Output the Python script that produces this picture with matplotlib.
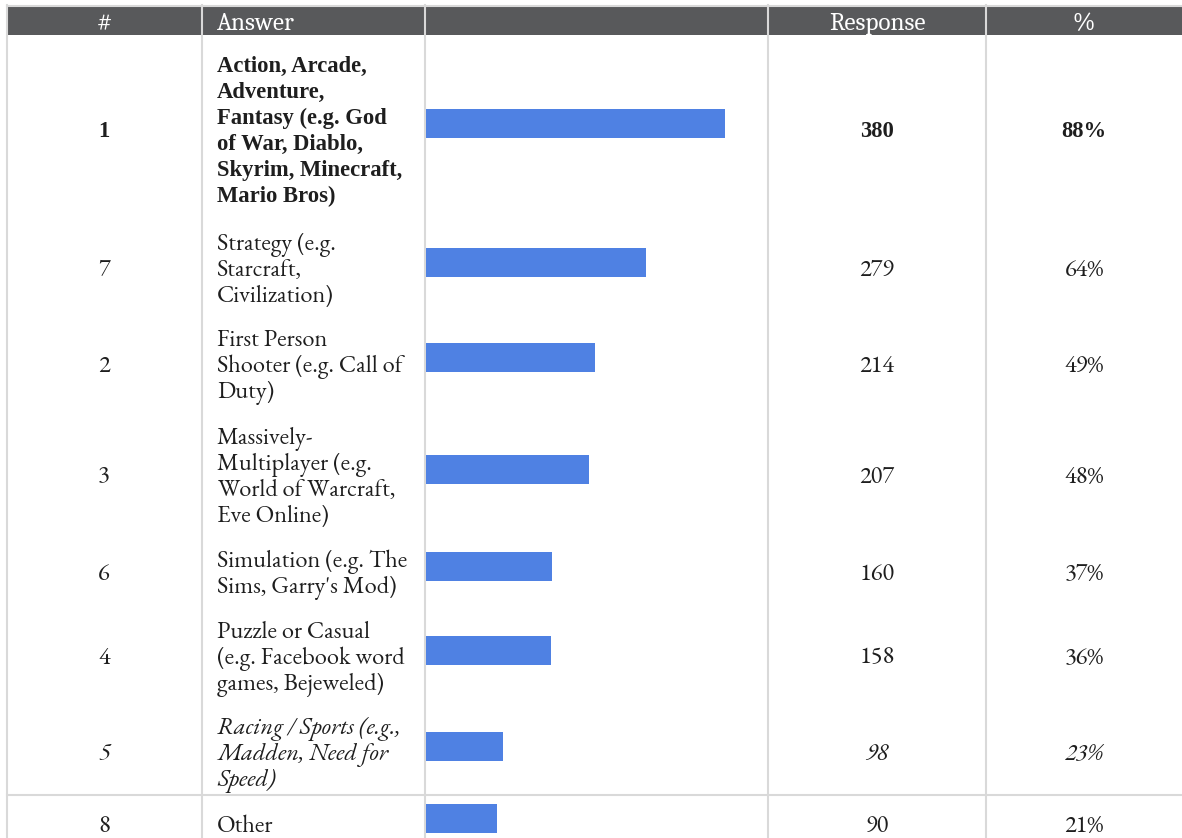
import matplotlib
matplotlib.use("Agg")
import matplotlib.pyplot as plt
from matplotlib.patches import Rectangle
from matplotlib import font_manager as fm

_avail = {f.name for f in fm.fontManager.ttflist}
_bold = {f.name for f in fm.fontManager.ttflist
         if (f.weight if isinstance(f.weight, int) else 400) >= 600 or str(f.weight) == "bold"}


def pick(cands, pool=_avail):
    for c in cands:
        if c in pool:
            return c
    return "Liberation Serif"


BODY_FONT = pick(["EB Garamond", "Cormorant Garamond", "Liberation Serif"])
BOLD_FONT = pick(["EB Garamond", "Liberation Serif"], _bold)
HEAD_FONT = pick(["Caladea", "Gelasio", "Liberation Serif"])

# ---- data ----
ids = ["1", "7", "2", "3", "6", "4", "5", "8"]
answers = [
    "Action, Arcade,\nAdventure,\nFantasy (e.g. God\nof War, Diablo,\nSkyrim, Minecraft,\nMario Bros)",
    "Strategy (e.g.\nStarcraft,\nCivilization)",
    "First Person\nShooter (e.g. Call of\nDuty)",
    "Massively-\nMultiplayer (e.g.\nWorld of Warcraft,\nEve Online)",
    "Simulation (e.g. The\nSims, Garry's Mod)",
    "Puzzle or Casual\n(e.g. Facebook word\ngames, Bejeweled)",
    "Racing / Sports (e.g.,\nMadden, Need for\nSpeed)",
    "Other",
]
responses = [380, 279, 214, 207, 160, 158, 98, 90]
percents = ["88%", "64%", "49%", "48%", "37%", "36%", "23%", "21%"]
row_styles = ["bold", "normal", "normal", "normal", "normal", "normal", "italic", "normal"]
total_respondents = 434
headers = ["#", "Answer", "", "Response", "%"]

# ---- layout (pixels) ----
W, H = 1182, 838
row_centers = [129, 267, 363, 474, 571, 655, 751, 823]
line_h = 26
col_lines = [7, 202, 425, 768, 986]
bar_left, bar_right = 426, 768
bar_h = 29
bar_offset = -5
sep_y = 795

HEADER_BG = "#58595b"
GRID = "#d9d9d9"
BAR = "#4f81e3"
TXT = "#1e1e1e"

fig = plt.figure(figsize=(W / 100, H / 100), dpi=100)
ax = fig.add_axes([0, 0, 1, 1])
ax.set_xlim(0, W)
ax.set_ylim(H, 0)
ax.axis("off")

# header
ax.add_patch(Rectangle((7, 7), W - 7, 28, facecolor=HEADER_BG, edgecolor="none", zorder=1))
ax.plot([7, W], [6, 6], color=GRID, lw=1.5, zorder=2)
for x in col_lines:
    ax.plot([x, x], [5, H], color=GRID, lw=1.5, zorder=2)
ax.plot([7, W], [sep_y, sep_y], color=GRID, lw=1.5, zorder=2)

hdr_x = [(7 + 202) / 2, 217, None, (768 + 986) / 2, (986 + W) / 2]
hdr_ha = ["center", "left", None, "center", "center"]
for t, x, ha in zip(headers, hdr_x, hdr_ha):
    if t:
        ax.text(x, 21.5, t, ha=ha, va="center_baseline", color="white", fontsize=18,
                family=HEAD_FONT, zorder=3)

for i, (rid, ans, resp, pct, st) in enumerate(zip(ids, answers, responses, percents, row_styles)):
    yc = row_centers[i]
    kw = dict(fontsize=17.5, color=TXT, va="center_baseline", zorder=3, family=BODY_FONT)
    if st == "bold":
        kw["fontweight"] = "bold"
        kw["family"] = BOLD_FONT
        if BOLD_FONT != BODY_FONT:
            kw["fontsize"] = 16.3
    elif st == "italic":
        kw["fontstyle"] = "italic"
    ax.text(104, yc, rid, ha="center", **kw)
    ax.text(877, yc, str(resp), ha="center", **kw)
    ax.text(1084, yc, pct, ha="center", **kw)
    lines = ans.split("\n")
    n = len(lines)
    for j, ln in enumerate(lines):
        ax.text(217, yc + (j - (n - 1) / 2) * line_h, ln, ha="left", **kw)

# bars in their own axes, scaled by total respondents
bax = fig.add_axes([bar_left / W, 0, (bar_right - bar_left) / W, 1])
bax.set_xlim(0, total_respondents)
bax.set_ylim(H, 0)
bax.axis("off")
bax.patch.set_alpha(0)
bax.barh([c + bar_offset for c in row_centers], responses, height=bar_h,
         color=BAR, edgecolor="none")

fig.savefig("out.png", dpi=100)
